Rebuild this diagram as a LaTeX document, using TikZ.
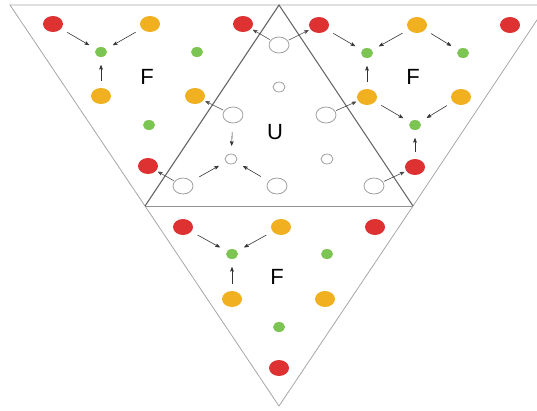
\documentclass[tikz,border=0pt]{standalone}
\usepackage{fontspec}
\setsansfont{Liberation Sans}
\usepackage{tikz}
\usetikzlibrary{arrows.meta,shapes.geometric}

\definecolor{dotred}{HTML}{DE3232}
\definecolor{dotamber}{HTML}{F0B020}
\definecolor{dotgreen}{HTML}{7DC552}

\begin{document}
\begin{tikzpicture}[x=1pt, y=-1pt, font=\sffamily\fontsize{22}{22}\selectfont, >={Stealth[round]},
  blob/.style={ellipse, inner sep=0pt, minimum width=20pt, minimum height=16pt},
  rdot/.style={blob, fill=dotred},
  odot/.style={blob, fill=dotamber},
  gdot/.style={ellipse, inner sep=0pt, minimum width=12pt, minimum height=10pt, fill=dotgreen},
  ucirc/.style={blob, draw=gray!75, line width=0.8pt, fill=white},
  usmall/.style={gdot, draw=gray!75, line width=0.8pt, fill=white},
  flow/.style={->, black!80, line width=0.6pt, shorten <=7pt, shorten >=8pt},
  uflow/.style={flow, shorten <=9pt, shorten >=8pt},
  link/.style={->, black!70, line width=0.6pt, shorten <=1pt, shorten >=2pt}]
\useasboundingbox (0,0) rectangle (537,410);
\clip (0,0) rectangle (537,410);
% corners
\coordinate (tl) at (10,5);
\coordinate (tm) at (279,5);
\coordinate (tr) at (547,5);
\coordinate (ml) at (145,206);
\coordinate (mr) at (413,206);
\coordinate (bm) at (279,406);
% triangles
\draw[gray!70, line width=0.8pt] (tl) -- (tr) -- (mr) -- (bm) -- (ml) -- cycle;
\draw[gray!85, line width=0.8pt] (ml) -- (mr);
\draw[black!60, line width=1.1pt] (ml) -- (tm) -- (mr);
% F parts
\foreach \n/\x/\y in {Lr1/53/24, Lr2/148/166, Lr3/243/24, Rr1/319/25, Rr2/510/25, Rr3/415/167,
    Br1/183/227, Br2/375/227, Br3/279/368}
  \node[rdot] (\n) at (\x,\y) {};
\foreach \n/\x/\y in {Lo1/150/24, Lo2/101/96, Lo3/195/96, Ro1/417/25, Ro2/367/97, Ro3/461/97,
    Bo1/281/227, Bo2/232/299, Bo3/325/299}
  \node[odot] (\n) at (\x,\y) {};
\foreach \n/\x/\y in {Lg1/101/52, Lg2/197/52, Lg3/149/125, Rg1/367/53, Rg2/463/53, Rg3/415/125,
    Bg1/232/254, Bg2/327/254, Bg3/279/327}
  \node[gdot] (\n) at (\x,\y) {};
% U part
\foreach \n/\x/\y in {Uc1/279/45, Uc2/233/115, Uc3/326/115, Uc4/183/186, Uc5/277/186, Uc6/374/186}
  \node[ucirc] (\n) at (\x,\y) {};
\foreach \n/\x/\y in {Us1/279/87, Us2/231/159, Us3/327/159}
  \node[usmall] (\n) at (\x,\y) {};
% labels
\node (fL) at (147,77) {F};
\node (fR) at (413,77) {F};
\node (fB) at (277,277) {F};
\node (uM) at (275,132) {U};
% arrows
\foreach \a/\b in {Lr1/Lg1, Lo1/Lg1, Lo2/Lg1, Rr1/Rg1, Ro1/Rg1, Ro1/Rg2, Ro2/Rg1, Ro2/Rg3,
    Ro3/Rg3, Rr3/Rg3, Br1/Bg1, Bo1/Bg1, Bo2/Bg1}
  \draw[flow] (\a) -- (\b);
\foreach \a/\b in {Uc2/Us2, Uc4/Us2, Uc5/Us2}
  \draw[uflow] (\a) -- (\b);
\foreach \a/\b in {Uc1/Lr3, Uc1/Rr1, Uc2/Lo3, Uc4/Lr2, Uc3/Ro2, Uc6/Rr3}
  \draw[link] (\a) -- (\b);
\end{tikzpicture}
\end{document}
